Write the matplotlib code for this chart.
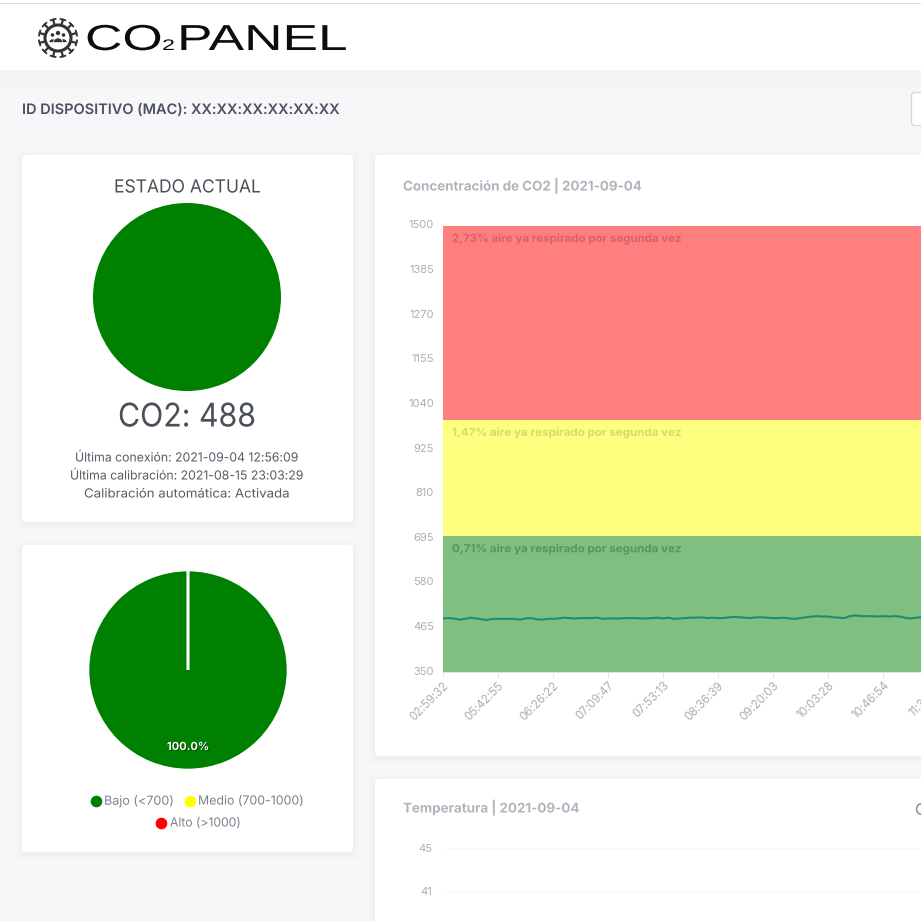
import matplotlib
matplotlib.use('Agg')
import matplotlib.pyplot as plt
import matplotlib.patheffects as pe
from matplotlib.patches import FancyBboxPatch, Rectangle, Circle, Wedge
from matplotlib.patheffects import AbstractPathEffect
from matplotlib.transforms import Affine2D, ScaledTranslation
import numpy as np

plt.rcParams['font.family'] = ['Inter', 'DejaVu Sans']

# CO2 chart data
co2_values = [488, 489, 488, 485, 487, 490, 488, 486, 484, 487, 487, 487, 487, 487, 485,
              488, 489, 486, 485, 487, 487, 488, 490, 489, 488, 489, 489, 489, 490,
              487, 488, 488, 488, 489, 489, 489, 488, 488, 489, 490, 488, 490, 487, 488,
              489, 490, 490, 491, 489, 490, 489, 489, 491, 492, 491, 490, 489, 491,
              491, 490, 489, 489, 490, 488, 487, 489, 491, 493, 494, 493, 493, 491, 490,
              489, 494, 496, 494, 494, 494, 493, 494, 493, 494, 493, 490, 488, 490, 491]
time_labels = ['02:59:32', '05:42:55', '06:26:22', '07:09:47', '07:53:13',
               '08:36:39', '09:20:03', '10:03:28', '10:46:54', '11:30:20']
co2_ticks = [350, 465, 580, 695, 810, 925, 1040, 1155, 1270, 1385, 1500]
band_edges = [350, 700, 1000, 1500]
band_colors = ['#008000', '#ffff00', '#ff0000']
band_notes = ['0,71% aire ya respirado por segunda vez',
              '1,47% aire ya respirado por segunda vez',
              '2,73% aire ya respirado por segunda vez']
note_colors = ['#4d9a5e', '#d8d86c', '#d9606a']

# Pie data
share_values = [100.0, 0.0, 0.0]
share_labels = ['Bajo (<700)', 'Medio (700-1000)', 'Alto (>1000)']

temp_ticks = [45, 41]

W = 921
fig = plt.figure(figsize=(9.21, 9.21), dpi=100, facecolor='#f7f7f9')
renderer = fig.canvas.get_renderer()


def px_axes(x0, y0, x1, y1, **kw):
    return fig.add_axes([x0 / W, 1 - y1 / W, (x1 - x0) / W, (y1 - y0) / W], **kw)


class StretchX(AbstractPathEffect):
    # Poppins and the logo face are wider than the installed fonts
    def __init__(self, sx):
        self.sx = sx

    def draw_path(self, renderer, gc, tpath, affine, rgbFace=None):
        m = affine.get_matrix().copy()
        m[0, 0] *= self.sx
        renderer.draw_path(gc, tpath, Affine2D(m), rgbFace)


def fit(t, width):
    t.set_path_effects([StretchX(width / t.get_window_extent(renderer).width)])


page = px_axes(0, 0, W, W, zorder=0)
page.set_xlim(0, W)
page.set_ylim(W, 0)
page.axis('off')


def put(x0, x1, y, s, **kw):
    t = page.text(x0, y, s, va='center', ha='left', **kw)
    fit(t, x1 - x0)
    return t


def card(x0, y0, x1, y1):
    for grow, a in [(6, 0.006), (4, 0.008), (2, 0.01)]:
        page.add_patch(FancyBboxPatch((x0 - grow, y0 - grow + 2), x1 - x0 + 2 * grow, y1 - y0 + 2 * grow,
                                      boxstyle='round,pad=0,rounding_size=6', fc='#1f2a44', ec='none', alpha=a))
    page.add_patch(FancyBboxPatch((x0, y0), x1 - x0, y1 - y0, boxstyle='round,pad=0,rounding_size=4',
                                  fc='white', ec='none'))


# header
for i, c in enumerate(['#f1f2f5', '#f2f3f6', '#f3f4f6', '#f4f5f7', '#f5f6f8', '#f6f7f8']):
    page.add_patch(Rectangle((0, 70 + i * 4), W, 4, fc=c, ec='none'))
page.add_patch(Rectangle((0, 0), W, 70, fc='white', ec='none'))
page.add_patch(Rectangle((0, 3), W, 1, fc='#dcdcdc', ec='none'))

card(22, 155, 353, 522)
card(22, 545, 353, 852)
card(375, 155, 990, 756)
card(375, 779, 990, 1000)

# button cut off at the right edge
page.add_patch(FancyBboxPatch((911.5, 92.5), 30, 33, boxstyle='round,pad=0,rounding_size=3', fc='white', ec='#d3d5da', lw=0.9))
page.add_patch(Circle((922, 809), 5.5, fc='none', ec='#7b8490', lw=1))

# logo gear
gc_x, gc_y = 58, 38
page.add_patch(Circle((gc_x, gc_y), 13, fc='none', ec='#333333', lw=2.2))
for ang in np.arange(0, 360, 30) + 15:
    a = np.deg2rad(ang)
    ca, sa = np.cos(a), np.sin(a)
    page.plot([gc_x + 14 * ca, gc_x + 20 * ca], [gc_y + 14 * sa, gc_y + 20 * sa], color='#333333', lw=1.6, solid_capstyle='butt')
    page.plot([gc_x + 19 * ca - 2.5 * sa, gc_x + 19 * ca + 2.5 * sa],
              [gc_y + 19 * sa + 2.5 * ca, gc_y + 19 * sa - 2.5 * ca], color='#333333', lw=1.3)
for dx, dy, r in [(-5.5, -3, 1.8), (5.5, -3, 1.8), (0, -5, 2.2)]:
    page.add_patch(Circle((gc_x + dx, gc_y + dy), r, fc='#333333', ec='none'))
for dx, r in [(-5.5, 3.6), (5.5, 3.6), (0, 4.6)]:
    page.add_patch(Wedge((gc_x + dx, gc_y + 4.5), r, 180, 360, fc='#333333', ec='white', lw=0.5))

# logo text
for s, x, x_end, size in [('CO', 85, 163, 26), ('2', 162, 175, 11), ('PANEL', 177, 348, 26)]:
    t = page.text(x, 50, s, family='Liberation Sans', fontsize=size, color='#0c0c0c', va='baseline', ha='left')
    fit(t, x_end - x)

put(22, 338, 110, 'ID DISPOSITIVO (MAC): XX:XX:XX:XX:XX:XX', fontsize=10.4, weight='semibold', color='#4a5160')

put(114, 261, 188, 'ESTADO ACTUAL', fontsize=13, color='#495057')
put(118, 256, 418, 'CO2: 488', fontsize=23.5, color='#495057')
for x0, x1, y, s in [(75, 299, 458.5, 'Última conexión: 2021-09-04 12:56:09'),
                     (70, 304, 476.5, 'Última calibración: 2021-08-15 23:03:29'),
                     (84, 290, 494.5, 'Calibración automática: Activada')]:
    put(x0, x1, y, s, fontsize=9, color='#555b66')

put(403, 642, 186, 'Concentración de CO2 | 2021-09-04', fontsize=9.6, weight='bold', color='#b0b5bd')
put(403, 580, 808, 'Temperatura | 2021-09-04', fontsize=9.6, weight='bold', color='#b0b5bd')

# current state pie
ax_state = px_axes(93, 203, 281, 391)
ax_state.pie([1], colors=['#008000'], radius=1)
ax_state.set_xlim(-1, 1)
ax_state.set_ylim(-1, 1)

# share pie
ax_share = px_axes(88, 570, 288, 770)
ax_share.pie(share_values, colors=band_colors, startangle=90, counterclock=True, radius=1,
             autopct=lambda p: '%.1f%%' % p if p > 0 else '', pctdistance=0.77,
             wedgeprops={'edgecolor': 'white', 'linewidth': 1.9},
             textprops={'color': 'white', 'fontsize': 8, 'weight': 'bold',
                        'path_effects': [pe.withSimplePatchShadow(offset=(0.6, -0.6), shadow_rgbFace='black', alpha=0.5)]})
ax_share.set_xlim(-1, 1)
ax_share.set_ylim(-1, 1)

# legend of the share pie
legend_spots = [(96, 801, 104, 174), (190, 801, 198, 304), (160.5, 823, 170, 241)]
for lab, col, (mx, my, x0, x1) in zip(share_labels, band_colors, legend_spots):
    page.scatter([mx], [my], s=70, color=col, zorder=3, linewidths=0)
    put(x0, x1, my + 0.5, lab, fontsize=9, color='#7c808c')

# CO2 chart
ax = px_axes(443, 226, 993, 672)
x = np.arange(len(co2_values))
ax.set_xlim(0, 100)
ax.set_ylim(co2_ticks[0], co2_ticks[-1])
for lo, hi, col in zip(band_edges[:-1], band_edges[1:], band_colors):
    ax.axhspan(lo, hi, color=col, alpha=0.5, lw=0)
ax.plot(x, co2_values, color='#1c8c76', lw=1.5)
for lo, hi, note, col in zip(band_edges[:-1], band_edges[1:], band_notes, note_colors):
    t = ax.annotate(note, (0, hi), xytext=(9, -13), textcoords='offset pixels', fontsize=8, weight='bold', color=col, va='center')
    fit(t, 231)
ax.set_yticks(co2_ticks)
ax.set_xticks(np.arange(len(time_labels)) * 10)
ax.set_xticklabels(time_labels, rotation=45, ha='right', rotation_mode='anchor')
ax.tick_params(axis='y', length=0, pad=6.5, labelsize=8, labelcolor='#a9aeb8')
ax.tick_params(axis='x', length=3.5, pad=2, width=0.7, color='#dfe3e8', labelsize=8.3, labelcolor='#a9aeb8')
for lab in ax.get_yticklabels():
    lab.set_transform(lab.get_transform() + ScaledTranslation(0, 1.5 / 100, fig.dpi_scale_trans))
for side in ['top', 'left', 'right']:
    ax.spines[side].set_visible(False)
ax.spines['bottom'].set_color('#dfe3e8')
ax.patch.set_alpha(0)

# temperature chart, only the first two gridlines are on screen
ax_t = px_axes(443, 848, 993, 921)
ax_t.set_ylim(38.2, 45)
ax_t.set_xlim(0, 100)
ax_t.set_xticks([])
ax_t.set_yticks(temp_ticks)
ax_t.grid(axis='y', color='#f7f8f9', lw=0.8)
ax_t.tick_params(axis='y', length=0, pad=8, labelsize=8, labelcolor='#a9aeb8')
for side in ax_t.spines:
    ax_t.spines[side].set_visible(False)
ax_t.patch.set_alpha(0)

fig.savefig('out.png', dpi=100)
